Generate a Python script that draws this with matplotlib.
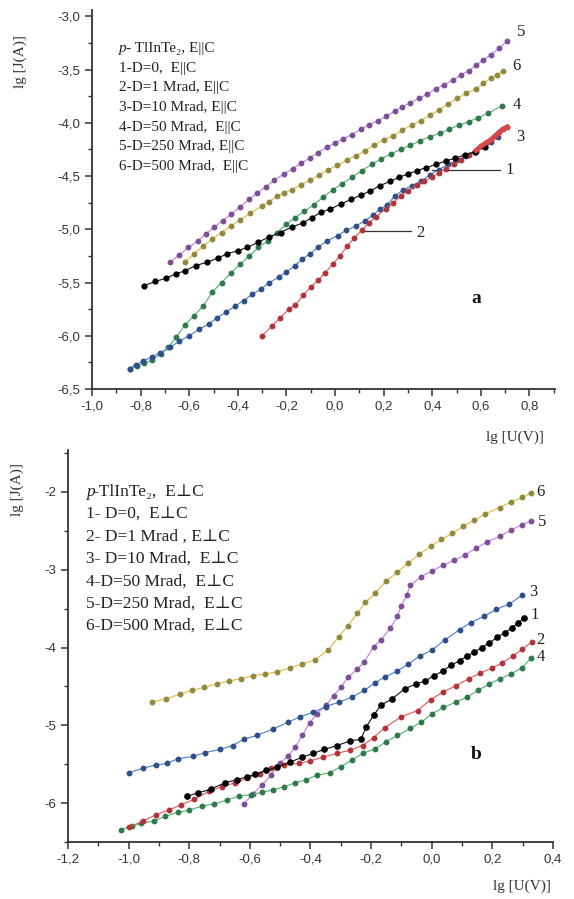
import numpy as np
import matplotlib
matplotlib.use("Agg")
import matplotlib.pyplot as plt
from matplotlib.ticker import MultipleLocator, FuncFormatter

# ---------------- panel a (E||C) ----------------
a1_x = [-0.788, -0.739, -0.697, -0.656, -0.618, -0.573, -0.527, -0.482, -0.444, -0.398, -0.361, -0.315,
        -0.270, -0.224, -0.179, -0.133, -0.095, -0.058, -0.020, 0.026, 0.065, 0.105, 0.145, 0.185, 0.225,
        0.265, 0.300, 0.336, 0.375, 0.415, 0.455, 0.495, 0.535, 0.575, 0.615]
a1_y = [-5.53, -5.49, -5.46, -5.42, -5.39, -5.34, -5.31, -5.27, -5.23, -5.20, -5.17, -5.12,
        -5.07, -5.03, -4.98, -4.94, -4.89, -4.84, -4.81, -4.76, -4.72, -4.68, -4.64, -4.59, -4.55,
        -4.51, -4.48, -4.45, -4.42, -4.39, -4.36, -4.33, -4.30, -4.27, -4.23]

a2_x = [-0.30, -0.26, -0.225, -0.19, -0.164, -0.13, -0.10, -0.07, -0.042, -0.01, 0.02, 0.05, 0.079,
        0.11, 0.14, 0.17, 0.208, 0.24, 0.27, 0.30, 0.336, 0.365, 0.397, 0.427, 0.457, 0.488, 0.518,
        0.55, 0.58, 0.60, 0.62, 0.64, 0.66, 0.675, 0.69, 0.708]
a2_y = [-6.00, -5.91, -5.83, -5.75, -5.71, -5.62, -5.54, -5.48, -5.41, -5.33, -5.25, -5.16, -5.08,
        -5.01, -4.94, -4.88, -4.81, -4.75, -4.69, -4.64, -4.58, -4.55, -4.51, -4.47, -4.43, -4.39, -4.35,
        -4.30, -4.26, -4.22, -4.19, -4.16, -4.12, -4.09, -4.06, -4.04]

a3_x = [-0.845, -0.82, -0.79, -0.755, -0.72, -0.679, -0.64, -0.60, -0.56, -0.52, -0.485, -0.45, -0.41,
        -0.376, -0.34, -0.305, -0.27, -0.232, -0.20, -0.165, -0.135, -0.103, -0.07, -0.035, 0.011, 0.045,
        0.085, 0.124, 0.155, 0.185, 0.215, 0.245, 0.28, 0.315, 0.352, 0.39, 0.427, 0.465, 0.503, 0.54,
        0.58, 0.61, 0.64, 0.67]
a3_y = [-6.31, -6.27, -6.24, -6.20, -6.16, -6.11, -6.05, -6.00, -5.94, -5.89, -5.83, -5.78, -5.72,
        -5.67, -5.61, -5.56, -5.50, -5.45, -5.40, -5.34, -5.28, -5.23, -5.17, -5.11, -5.06, -5.01,
        -4.97, -4.92, -4.87, -4.81, -4.77, -4.69, -4.63, -4.59, -4.55, -4.49, -4.44, -4.39, -4.35, -4.31,
        -4.27, -4.22, -4.18, -4.13]

a4_x = [-0.845, -0.815, -0.785, -0.755, -0.717, -0.686, -0.653, -0.618, -0.58, -0.542, -0.505, -0.467,
        -0.429, -0.391, -0.353, -0.315, -0.277, -0.24, -0.20, -0.164, -0.126, -0.088, -0.05, -0.01, 0.03,
        0.07, 0.11, 0.15, 0.19, 0.23, 0.27, 0.31, 0.35, 0.39, 0.43, 0.47, 0.51, 0.55, 0.59, 0.63, 0.685]
a4_y = [-6.31, -6.28, -6.26, -6.23, -6.17, -6.11, -6.01, -5.90, -5.81, -5.72, -5.59, -5.50,
        -5.41, -5.33, -5.25, -5.17, -5.11, -5.03, -4.95, -4.89, -4.83, -4.77, -4.70, -4.63, -4.57,
        -4.51, -4.45, -4.39, -4.34, -4.29, -4.25, -4.21, -4.17, -4.13, -4.10, -4.06, -4.02, -3.99, -3.95,
        -3.91, -3.84]

a5_x = [-0.679, -0.641, -0.603, -0.565, -0.53, -0.497, -0.463, -0.429, -0.39, -0.355, -0.32, -0.285,
        -0.25, -0.21, -0.175, -0.14, -0.105, -0.07, -0.035, 0.0, 0.033, 0.07, 0.105, 0.14, 0.175, 0.21,
        0.245, 0.276, 0.31, 0.345, 0.38, 0.415, 0.45, 0.485, 0.518, 0.55, 0.58, 0.61, 0.64, 0.675, 0.708]
a5_y = [-5.31, -5.24, -5.17, -5.11, -5.04, -4.98, -4.92, -4.86, -4.79, -4.72, -4.66, -4.60,
        -4.54, -4.48, -4.43, -4.38, -4.33, -4.28, -4.23, -4.19, -4.15, -4.11, -4.06, -4.02, -3.98, -3.94,
        -3.89, -3.85, -3.81, -3.77, -3.73, -3.68, -3.64, -3.60, -3.55, -3.51, -3.46, -3.41, -3.36, -3.30,
        -3.23]

a6_x = [-0.618, -0.58, -0.543, -0.505, -0.467, -0.429, -0.39, -0.35, -0.30, -0.27, -0.24, -0.21,
        -0.179, -0.14, -0.103, -0.065, -0.027, 0.01, 0.048, 0.085, 0.124, 0.16, 0.20, 0.24, 0.276, 0.315,
        0.352, 0.39, 0.427, 0.465, 0.503, 0.54, 0.58, 0.61, 0.64, 0.665, 0.692]
a6_y = [-5.31, -5.23, -5.16, -5.09, -5.03, -4.97, -4.91, -4.85, -4.78, -4.74, -4.69, -4.66,
        -4.63, -4.58, -4.54, -4.49, -4.44, -4.40, -4.35, -4.31, -4.26, -4.21, -4.16, -4.12, -4.07, -4.02,
        -3.98, -3.93, -3.88, -3.82, -3.77, -3.72, -3.68, -3.63, -3.58, -3.55, -3.51]

# ---------------- panel b (E⊥C) ----------------
b1_x = [-0.807, -0.771, -0.729, -0.683, -0.644, -0.608, -0.582, -0.548, -0.512, -0.466, -0.427, -0.391,
        -0.355, -0.312, -0.27, -0.234, -0.216, -0.192, -0.167, -0.131, -0.089, -0.053, -0.022, 0.008,
        0.038, 0.062, 0.092, 0.116, 0.14, 0.165, 0.19, 0.215, 0.24, 0.265, 0.285, 0.305]
b1_y = [-5.91, -5.87, -5.82, -5.74, -5.70, -5.66, -5.63, -5.58, -5.54, -5.47, -5.41, -5.36,
        -5.31, -5.26, -5.20, -5.18, -5.02, -4.87, -4.74, -4.66, -4.53, -4.47, -4.43, -4.36,
        -4.30, -4.23, -4.17, -4.11, -4.06, -4.00, -3.94, -3.87, -3.81, -3.75, -3.68, -3.62]

b2_x = [-0.999, -0.952, -0.91, -0.868, -0.826, -0.783, -0.735, -0.693, -0.65, -0.608, -0.566, -0.53,
        -0.487, -0.439, -0.403, -0.36, -0.312, -0.27, -0.228, -0.192, -0.155, -0.101, -0.047, -0.004,
        0.038, 0.08, 0.122, 0.16, 0.2, 0.231, 0.267, 0.298, 0.33]
b2_y = [-6.31, -6.23, -6.15, -6.09, -6.02, -5.95, -5.85, -5.79, -5.74, -5.68, -5.62, -5.55,
        -5.51, -5.49, -5.46, -5.41, -5.36, -5.32, -5.26, -5.16, -5.03, -4.89, -4.81, -4.67,
        -4.57, -4.49, -4.40, -4.33, -4.26, -4.20, -4.11, -4.02, -3.93]

b3_x = [-0.999, -0.952, -0.91, -0.874, -0.838, -0.789, -0.747, -0.699, -0.657, -0.62, -0.578, -0.524,
        -0.475, -0.433, -0.391, -0.349, -0.306, -0.264, -0.222, -0.186, -0.155, -0.113, -0.077, -0.04,
        0.002, 0.044, 0.092, 0.128, 0.171, 0.213, 0.255, 0.298]
b3_y = [-5.61, -5.55, -5.51, -5.49, -5.43, -5.40, -5.35, -5.31, -5.26, -5.18, -5.13, -5.05,
        -4.96, -4.89, -4.83, -4.76, -4.70, -4.64, -4.55, -4.45, -4.38, -4.30, -4.21, -4.11,
        -4.03, -3.90, -3.77, -3.68, -3.60, -3.51, -3.44, -3.33]

b4_x = [-1.024, -0.989, -0.958, -0.916, -0.88, -0.838, -0.80, -0.759, -0.717, -0.675, -0.635, -0.596,
        -0.56, -0.524, -0.487, -0.451, -0.415, -0.379, -0.336, -0.30, -0.264, -0.228, -0.186, -0.15,
        -0.113, -0.071, -0.035, 0.002, 0.038, 0.08, 0.116, 0.153, 0.189, 0.225, 0.261, 0.298, 0.328]
b4_y = [-6.34, -6.29, -6.26, -6.23, -6.17, -6.12, -6.09, -6.04, -6.01, -5.96, -5.91, -5.89,
        -5.86, -5.83, -5.79, -5.74, -5.70, -5.64, -5.61, -5.53, -5.45, -5.36, -5.30, -5.21,
        -5.13, -5.04, -4.96, -4.85, -4.77, -4.70, -4.64, -4.55, -4.47, -4.40, -4.34, -4.26, -4.13]

b5_x = [-0.62, -0.59, -0.56, -0.53, -0.50, -0.475, -0.45, -0.427, -0.403, -0.379, -0.349, -0.324,
        -0.30, -0.276, -0.246, -0.222, -0.192, -0.167, -0.137, -0.113, -0.101, -0.083, -0.071, -0.035,
        0.002, 0.038, 0.074, 0.11, 0.147, 0.183, 0.225, 0.261, 0.298, 0.328]
b5_y = [-6.01, -5.88, -5.77, -5.64, -5.48, -5.40, -5.28, -5.13, -4.97, -4.85, -4.74, -4.62,
        -4.51, -4.38, -4.28, -4.18, -3.99, -3.90, -3.75, -3.60, -3.47, -3.33, -3.20, -3.09,
        -3.01, -2.94, -2.88, -2.81, -2.72, -2.64, -2.57, -2.49, -2.42, -2.37]

b6_x = [-0.922, -0.876, -0.832, -0.79, -0.75, -0.71, -0.67, -0.63, -0.59, -0.55, -0.51, -0.466,
        -0.427, -0.385, -0.342, -0.306, -0.276, -0.246, -0.219, -0.186, -0.152, -0.113, -0.077, -0.041,
        -0.004, 0.032, 0.068, 0.104, 0.141, 0.177, 0.225, 0.261, 0.298, 0.328]
b6_y = [-4.70, -4.66, -4.60, -4.55, -4.51, -4.47, -4.43, -4.40, -4.36, -4.34, -4.31, -4.26,
        -4.21, -4.16, -4.03, -3.86, -3.72, -3.56, -3.42, -3.30, -3.15, -3.03, -2.91, -2.80,
        -2.70, -2.61, -2.53, -2.44, -2.36, -2.28, -2.20, -2.13, -2.07, -2.01]

legend_a = ["p- TlInTe₂, E||C", "1-D=0,  E||C", "2-D=1 Mrad, E||C", "3-D=10 Mrad, E||C",
            "4-D=50 Mrad,  E||C", "5-D=250 Mrad, E||C", "6-D=500 Mrad,  E||C"]
legend_b = ["p-TlInTe₂,  E⊥C", "1- D=0,  E⊥C", "2- D=1 Mrad , E⊥C", "3- D=10 Mrad,  E⊥C",
            "4-D=50 Mrad,  E⊥C", "5-D=250 Mrad,  E⊥C", "6-D=500 Mrad,  E⊥C"]

# line colour, dot colour
colors = {
    1: ("#111111", "#000000"),
    2: ("#e8565a", "#b0353a"),
    3: ("#4a7cc8", "#2f4f8a"),
    4: ("#50b070", "#2f7a48"),
    5: ("#c07ee0", "#7d4f96"),
    6: ("#e6b83a", "#8f8a40"),
}

W, H = 574, 899
fig = plt.figure(figsize=(W / 100, H / 100), dpi=100)
serif = ["Liberation Serif", "DejaVu Serif"]


def px_axes(left, right, top, bottom):
    return fig.add_axes([left / W, 1 - bottom / H, (right - left) / W, (bottom - top) / H])


def comma_fmt(dec):
    if dec == 0:
        return FuncFormatter(lambda v, p: f"{v:.0f}")
    return FuncFormatter(lambda v, p: f"{v:.{dec}f}".replace(".", ",").replace("-0,0", "0,0"))


def style(ax):
    for s in ["top", "right"]:
        ax.spines[s].set_visible(False)
    for s in ["left", "bottom"]:
        ax.spines[s].set_linewidth(1.3)
        ax.spines[s].set_color("#333333")
    ax.tick_params(which="major", direction="out", length=5, width=1.1, colors="#333333",
                   labelsize=9.5, labelcolor="#333333")
    ax.tick_params(which="minor", direction="out", length=3, width=1.0, colors="#333333")
    for lab in ax.get_xticklabels() + ax.get_yticklabels():
        lab.set_family("Liberation Sans")


def curve(ax, x, y, k, ms=3.2):
    lc, mc = colors[k]
    ax.plot(x, y, "-", color=lc, lw=0.8, marker="o", ms=ms, mfc=mc, mec=mc, zorder=3)


def legend_lines(ax, lines, x0, ys, fs, dx):
    for t, yy in zip(lines, ys):
        if t.startswith("p"):
            ax.text(x0, yy, "p", style="italic", family=serif, fontsize=fs, va="center", color="#222222")
            ax.text(x0 + dx, yy, t[1:], family=serif, fontsize=fs, va="center", color="#222222")
        else:
            ax.text(x0, yy, t, family=serif, fontsize=fs, va="center", color="#222222")


# ---------- panel a ----------
ax = px_axes(92, 555, 10, 389)
curve(ax, a4_x, a4_y, 4)
curve(ax, a3_x, a3_y, 3)
curve(ax, a2_x, a2_y, 2)
ax.plot(a2_x[-8:], a2_y[-8:], "-", color="#d84848", lw=3.5, zorder=4)
curve(ax, a1_x, a1_y, 1, ms=3.5)
curve(ax, a6_x, a6_y, 6)
curve(ax, a5_x, a5_y, 5)
ax.set_xlim(-1.0, 0.905)
ax.set_ylim(-6.5, -2.94)
ax.xaxis.set_major_locator(MultipleLocator(0.2))
ax.xaxis.set_minor_locator(MultipleLocator(0.1))
ax.yaxis.set_major_locator(MultipleLocator(0.5))
ax.yaxis.set_minor_locator(MultipleLocator(0.25))
ax.xaxis.set_major_formatter(comma_fmt(1))
ax.yaxis.set_major_formatter(comma_fmt(1))
style(ax)

legend_lines(ax, legend_a, -0.89, np.linspace(-3.30, -4.41, len(legend_a)), 11, 0.03)

for lab, lx, ly in [("5", 0.75, -3.15), ("6", 0.73, -3.47), ("4", 0.73, -3.83), ("3", 0.745, -4.13)]:
    ax.text(lx, ly, lab, family=serif, fontsize=12, va="center", color="#222222")
ax.plot([0.40, 0.68], [-4.44, -4.44], color="#333333", lw=0.9)
ax.text(0.70, -4.44, "1", family=serif, fontsize=12, va="center", color="#222222")
ax.plot([0.117, 0.314], [-5.02, -5.02], color="#333333", lw=0.9)
ax.text(0.335, -5.03, "2", family=serif, fontsize=12, va="center", color="#222222")
ax.text(0.56, -5.65, "a", family=serif, fontsize=14, weight="bold", va="center", color="#111111")
fig.text(20 / W, 1 - 62 / H, "lg [J(A)]", rotation=90, family=serif, fontsize=11,
         ha="center", va="center", color="#333333")
fig.text(515 / W, 1 - 437 / H, "lg [U(V)]", family=serif, fontsize=11,
         ha="center", va="center", color="#333333")

# ---------- panel b ----------
bx = px_axes(68, 553, 450, 842)
curve(bx, b6_x, b6_y, 6)
curve(bx, b5_x, b5_y, 5)
curve(bx, b3_x, b3_y, 3)
curve(bx, b4_x, b4_y, 4)
curve(bx, b2_x, b2_y, 2)
curve(bx, b1_x, b1_y, 1, ms=3.8)
bx.set_xlim(-1.2, 0.4)
bx.set_ylim(-6.5, -1.46)
bx.xaxis.set_major_locator(MultipleLocator(0.2))
bx.xaxis.set_minor_locator(MultipleLocator(0.1))
bx.yaxis.set_minor_locator(MultipleLocator(0.5))
bx.xaxis.set_major_formatter(comma_fmt(1))
bx.yaxis.set_major_formatter(comma_fmt(0))
bx.set_yticks([-6, -5, -4, -3, -2])
style(bx)

legend_lines(bx, legend_b, -1.142, np.linspace(-2.0, -3.72, len(legend_b)), 12.5, 0.026)

for lab, lx, ly in [("6", 0.345, -2.0), ("5", 0.35, -2.38), ("3", 0.32, -3.28), ("1", 0.325, -3.58),
                    ("2", 0.345, -3.9), ("4", 0.345, -4.12)]:
    bx.text(lx, ly, lab, family=serif, fontsize=12, va="center", color="#222222")
bx.text(0.13, -5.38, "b", family=serif, fontsize=14, weight="bold", va="center", color="#111111")
fig.text(17 / W, 1 - 490 / H, "lg [J(A)]", rotation=90, family=serif, fontsize=11,
         ha="center", va="center", color="#333333")
fig.text(522 / W, 1 - 886 / H, "lg [U(V)]", family=serif, fontsize=11,
         ha="center", va="center", color="#333333")

fig.savefig("out.png", dpi=100)
